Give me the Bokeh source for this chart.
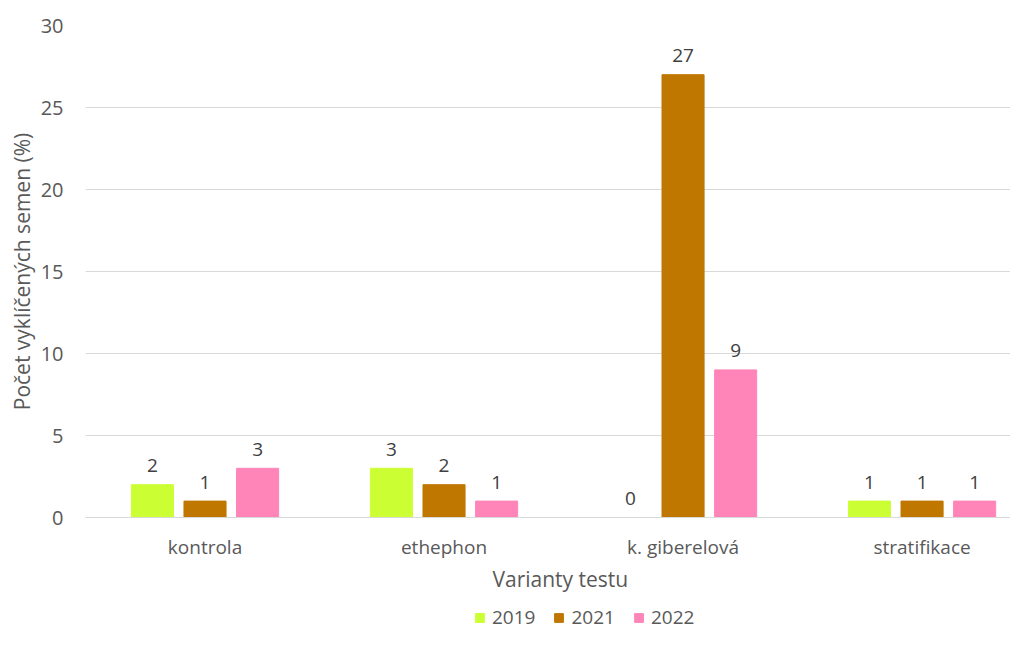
from bokeh.plotting import figure
from bokeh.layouts import column
from bokeh.models import ColumnDataSource, Legend, LegendItem, Range1d, Title
from bokeh.core.properties import value
from bokeh.embed import file_html
from bokeh.resources import INLINE

categories = ["kontrola", "ethephon", "k. giberelová", "stratifikace"]
years = ["2019", "2021", "2022"]
v2019 = [2, 3, 0, 1]
v2021 = [1, 2, 27, 1]
v2022 = [3, 1, 9, 1]
colors = ["#CCFF33", "#C07700", "#FF85B8"]

FONT = "Open Sans"
TXT = "#595959"

pos = [i + 0.5 for i in range(len(categories))]
series = {"2019": v2019, "2021": v2021, "2022": v2022}
offsets = [-0.22, 0.0, 0.22]

p = figure(x_range=Range1d(0, 3.870), y_range=Range1d(0, 30),
           width=1010, height=600, output_backend="svg", toolbar_location=None,
           min_border_left=85, min_border_right=0, min_border_top=25, min_border_bottom=83)

for yr, off, col in zip(years, offsets, colors):
    vals = series[yr]
    src = ColumnDataSource(dict(x=[x + off for x in pos], y=vals, lab=[str(v) for v in vals]))
    p.vbar(x="x", top="y", width=0.176, source=src, fill_color=col, line_color=col)
    p.text(x="x", y="y", text="lab", source=src,
           text_align="center", text_baseline="middle", y_offset=-19,
           text_font=value(FONT), text_font_size="19px", text_color="#404040")

p.yaxis.ticker = [0, 5, 10, 15, 20, 25, 30]
p.yaxis.axis_line_color = None
p.yaxis.major_tick_line_color = None
p.yaxis.minor_tick_line_color = None
p.yaxis.major_label_text_font = FONT
p.yaxis.major_label_text_font_size = "20px"
p.yaxis.major_label_text_color = TXT
p.yaxis.major_label_standoff = 16
p.yaxis.axis_label = "Počet vyklíčených semen (%)"
p.yaxis.axis_label_text_font = FONT
p.yaxis.axis_label_text_font_style = "normal"
p.yaxis.axis_label_text_font_size = "21px"
p.yaxis.axis_label_text_color = TXT
p.yaxis.axis_label_standoff = 2

p.xaxis.ticker = pos
p.xaxis.major_label_overrides = {x: c for x, c in zip(pos, categories)}
p.xaxis.axis_line_color = "#D9D9D9"
p.xaxis.major_tick_line_color = None
p.xaxis.minor_tick_line_color = None
p.xaxis.major_label_text_font = FONT
p.xaxis.major_label_text_font_size = "19px"
p.xaxis.major_label_text_color = TXT
p.xaxis.major_label_standoff = 10

xtitle = Title(text="Varianty testu", align="left", offset=407, standoff=0,
               text_font=FONT, text_font_style="normal", text_font_size="21px",
               text_color=TXT)
p.add_layout(xtitle, "below")

p.xgrid.grid_line_color = None
p.ygrid.grid_line_color = "#D9D9D9"
p.outline_line_color = None

# legend strip
lf = figure(x_range=Range1d(0, 1), y_range=Range1d(0, 1), width=1010, height=30,
            output_backend="svg", toolbar_location=None,
            x_axis_location=None, y_axis_location=None,
            min_border_left=0, min_border_right=0, min_border_top=0, min_border_bottom=0)
lf.grid.grid_line_color = None
lf.outline_line_color = None
items = []
for yr, col in zip(years, colors):
    # off-canvas proxy so the legend swatch gets drawn
    r = lf.vbar(x=[-1], top=[0], width=0.1, fill_color=col, line_color=col)
    items.append(LegendItem(label=yr, renderers=[r]))
legend = Legend(items=items, orientation="horizontal", location=(389, 0),
                label_text_font=FONT, label_text_font_size="19px", label_text_color=TXT,
                glyph_width=11, glyph_height=11, spacing=18, border_line_color=None,
                background_fill_alpha=0, margin=0, padding=0, label_standoff=7)
lf.add_layout(legend)

layout = column(p, lf, spacing=0)
open("out.html", "w").write(file_html(layout, INLINE))
